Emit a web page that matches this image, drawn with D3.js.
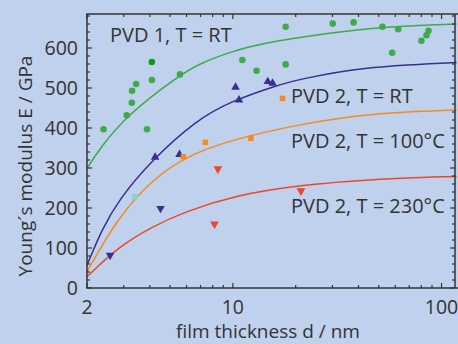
<!DOCTYPE html>
<html>
<head>
<meta charset="utf-8">
<script src="https://cdn.jsdelivr.net/npm/d3@7"></script>
<style>
    html, body { margin: 0; padding: 0; background: #bfd1ec; overflow: hidden; }
    #chart-container { width: 458px; height: 344px; }
    text { font-family: "Open Sans", "Noto Sans", sans-serif; fill: #333; }
</style>
</head>
<body>
<div id="chart-container"></div>
<script>
// Young's modulus vs film thickness
const xTickValues = [2, 10, 100];
const xMinorTicks = [3, 4, 5, 6, 7, 8, 9, 20, 30, 40, 50, 60, 70, 80, 90];
const yTickValues = [0, 100, 200, 300, 400, 500, 600];
const yMinorTicks = d3.range(0, 700, 20);

// PVD 1, T = RT  (green circles)
const pvd1Thickness = [2.40, 3.10, 3.28, 3.29, 3.44, 4.09, 3.88, 5.58, 11.1, 13.0, 17.9, 17.9, 30.1, 37.9, 52.1, 62.0, 58.0, 80.1, 84.7, 86.6];
const pvd1Modulus   = [397, 432, 463, 493, 510, 520, 397, 534, 570, 543, 653, 559, 661, 664, 653, 647, 588, 618, 632, 643];
const pvd1DarkThickness = [4.09];
const pvd1DarkModulus   = [565];

// PVD 2, T = RT  (navy triangles)
const pvd2RtThickness = [4.24, 5.55, 10.3, 10.7, 14.7, 15.5];
const pvd2RtModulus   = [327, 334, 502, 470, 516, 512];
const pvd2RtDownThickness = [2.58, 4.50];
const pvd2RtDownModulus   = [82, 199];

// PVD 2, T = 100°C  (orange squares, one cyan)
const pvd2T100Thickness = [5.79, 7.38, 12.2, 17.3];
const pvd2T100Modulus   = [328, 364, 374, 474];
const cyanThickness = [3.39];
const cyanModulus   = [228];

// PVD 2, T = 230°C  (red down triangles)
const pvd2T230Thickness = [8.48, 8.17, 21.2];
const pvd2T230Modulus   = [298, 160, 243];

// fitted curves
const fitPvd1X = [2, 2.31, 3.1, 5.58, 7.0, 9.71, 13.7, 28.6, 51.5, 118];
const fitPvd1Y = [299, 350, 432, 533, 562, 590, 612, 637, 653, 660];
const fitRtX = [2, 2.35, 2.83, 4.09, 6.7, 9.71, 16.3, 21.0, 41.4, 118];
const fitRtY = [57, 145, 220, 320, 420, 466, 507, 522, 553, 564];
const fitT100X = [2, 2.83, 4.09, 5.91, 9.71, 21.0, 45.7, 118];
const fitT100Y = [41, 178, 270, 328, 370, 410, 437, 445];
const fitT230X = [2, 2.83, 4.09, 5.91, 10.3, 21.0, 45.7, 118];
const fitT230Y = [28, 103, 153, 191, 232, 257, 272, 279];

const curveLabels = ['PVD 1, T = RT', 'PVD 2, T = RT', 'PVD 2, T = 100°C', 'PVD 2, T = 230°C'];

const GREEN = '#3dab4b';
const DARK_GREEN = '#13991f';
const NAVY = '#3b2e91';
const ORANGE = '#f7891f';
const RED = '#ec472b';
const CYAN = '#80d2d4';
const INK = '#333';

class ModulusChart {
    render(container) {
        const width = 458;
        const height = 344;
        const margin = { top: 14, right: 3, bottom: 56, left: 87 };

        const svg = d3.select(container)
            .append('svg')
            .attr('width', width)
            .attr('height', height);

        const x = d3.scaleLog()
            .domain([2, 116])
            .range([margin.left, width - margin.right]);
        const y = d3.scaleLinear()
            .domain([0, 685])
            .range([height - margin.bottom, margin.top]);

        const x0 = margin.left;
        const x1 = width - margin.right;
        const y0 = height - margin.bottom;
        const y1 = margin.top;

        // fitted curves
        const line = d3.line()
            .x(d => x(d[0]))
            .y(d => y(d[1]))
            .curve(d3.curveBasis);
        const fits = [
            [fitPvd1X, fitPvd1Y, GREEN],
            [fitRtX, fitRtY, NAVY],
            [fitT100X, fitT100Y, ORANGE],
            [fitT230X, fitT230Y, RED]
        ];
        fits.forEach(([xs, ys, color]) => {
            svg.append('path')
                .attr('d', line(d3.zip(xs, ys)))
                .attr('fill', 'none')
                .attr('stroke', color)
                .attr('stroke-width', 1.5);
        });

        // markers
        const addPoints = (xs, ys, type, size, color, rotate) => {
            svg.append('g').selectAll('path')
                .data(d3.zip(xs, ys))
                .enter()
                .append('path')
                .attr('d', d3.symbol().type(type).size(size))
                .attr('transform', d => `translate(${x(d[0])},${y(d[1])}) rotate(${rotate || 0})`)
                .attr('fill', color);
        };
        addPoints(pvd1Thickness, pvd1Modulus, d3.symbolCircle, 34, GREEN);
        addPoints(pvd1DarkThickness, pvd1DarkModulus, d3.symbolCircle, 34, DARK_GREEN);
        addPoints(pvd2RtThickness, pvd2RtModulus, d3.symbolTriangle, 32, NAVY);
        addPoints(pvd2RtDownThickness, pvd2RtDownModulus, d3.symbolTriangle, 32, NAVY, 180);
        addPoints(pvd2T100Thickness, pvd2T100Modulus, d3.symbolSquare, 30, ORANGE);
        addPoints(cyanThickness, cyanModulus, d3.symbolSquare, 30, CYAN);
        addPoints(pvd2T230Thickness, pvd2T230Modulus, d3.symbolTriangle, 34, RED, 180);

        // frame
        const frame = svg.append('g')
            .attr('stroke', INK)
            .attr('stroke-width', 1.5)
            .attr('fill', 'none');
        frame.append('path').attr('d', `M${x0},${y0}V${y1}`);
        frame.append('path').attr('d', `M${x1},${y0}V${y1}`);
        frame.append('path').attr('d', `M${x0 - 0.75},${y0}H${width}`);
        frame.append('path').attr('d', `M${x0 - 0.75},${y1}H${width}`);

        // ticks (inward, all four sides)
        const ticks = svg.append('g')
            .attr('stroke', INK)
            .attr('stroke-width', 1.2);
        xMinorTicks.forEach(v => {
            ticks.append('line').attr('x1', x(v)).attr('x2', x(v)).attr('y1', y0).attr('y2', y0 - 3);
            ticks.append('line').attr('x1', x(v)).attr('x2', x(v)).attr('y1', y1).attr('y2', y1 + 3);
        });
        xTickValues.forEach(v => {
            ticks.append('line').attr('x1', x(v)).attr('x2', x(v)).attr('y1', y0).attr('y2', y0 - 5);
            ticks.append('line').attr('x1', x(v)).attr('x2', x(v)).attr('y1', y1).attr('y2', y1 + 5);
        });
        yMinorTicks.forEach(v => {
            const len = v % 100 === 0 ? 5 : 3;
            ticks.append('line').attr('x1', x0).attr('x2', x0 + len).attr('y1', y(v)).attr('y2', y(v));
            ticks.append('line').attr('x1', x1).attr('x2', x1 - len).attr('y1', y(v)).attr('y2', y(v));
        });

        // tick labels
        svg.append('g').selectAll('text')
            .data(xTickValues)
            .enter()
            .append('text')
            .attr('x', d => x(d))
            .attr('y', y0 + 26)
            .attr('text-anchor', 'middle')
            .attr('font-size', '19.5px')
            .text(d => d);

        svg.append('g').selectAll('text')
            .data(yTickValues)
            .enter()
            .append('text')
            .attr('x', x0 - 9)
            .attr('y', d => y(d))
            .attr('dy', '0.36em')
            .attr('text-anchor', 'end')
            .attr('font-size', '19.5px')
            .text(d => d);

        // axis titles
        svg.append('text')
            .attr('x', 268)
            .attr('y', 338)
            .attr('text-anchor', 'middle')
            .attr('font-size', '19px')
            .text('film thickness d / nm');

        svg.append('text')
            .attr('transform', 'translate(32,166) rotate(-90)')
            .attr('text-anchor', 'middle')
            .attr('font-size', '19px')
            .text('Young´s modulus E / GPa');

        // curve labels
        const labelPos = [[110, 42], [291, 103], [291, 148], [291, 213]];
        curveLabels.forEach((t, i) => {
            svg.append('text')
                .attr('x', labelPos[i][0])
                .attr('y', labelPos[i][1])
                .attr('font-size', '20px')
                .text(t);
        });
    }
}

new ModulusChart().render(document.getElementById('chart-container'));
</script>
</body>
</html>
